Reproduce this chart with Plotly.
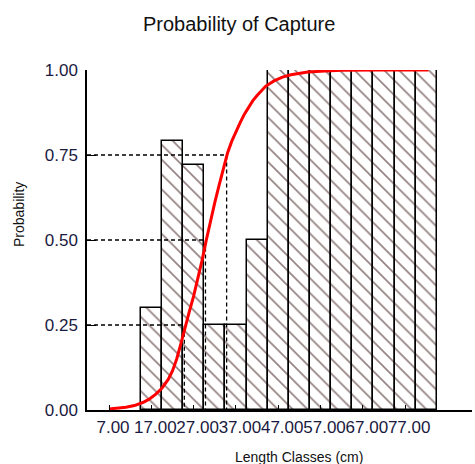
import plotly.graph_objects as go

# Length-class midpoints (cm) and observed proportion retained per class
class_mid = [17, 22, 27, 32, 37, 42, 47, 52, 57, 62, 67, 72, 77, 82]
prop_retained = [0.30, 0.79, 0.72, 0.25, 0.25, 0.50, 1.00, 1.00, 1.00, 1.00, 1.00, 1.00, 1.00, 1.00]
class_width = 5

# Fitted selection curve (length, probability of capture)
curve_len = [7, 9, 11, 13, 15, 16.5, 18, 19.5, 21, 22, 23, 24, 25, 26, 27, 28, 29, 30, 31, 32,
             33, 34, 35, 36, 37, 38, 39, 40, 41, 42, 43, 44, 46, 48, 50, 54, 58, 62, 70, 82.5]
curve_prob = [0.003, 0.005, 0.008, 0.013, 0.022, 0.032, 0.046, 0.064, 0.09, 0.115, 0.15, 0.195,
              0.245, 0.29, 0.335, 0.385, 0.44, 0.50, 0.56, 0.61, 0.66, 0.71, 0.755, 0.79, 0.82,
              0.845, 0.87, 0.89, 0.91, 0.925, 0.94, 0.952, 0.968, 0.979, 0.986, 0.994, 0.997,
              0.999, 1.0, 1.0]

# Selection lengths L25, L50, L75
sel_prob = [0.25, 0.50, 0.75]
sel_len = [24.8, 29.8, 34.8]

x_tick_vals = [7, 17, 27, 37, 47, 57, 67, 77]
y_tick_vals = [0, 0.25, 0.5, 0.75, 1.0]

X_MIN, X_MAX = 1.8, 92.8
FONT = "Liberation Sans, Arial, sans-serif"

fig = go.Figure()

fig.add_trace(go.Bar(
    x=class_mid, y=prop_retained, width=[class_width] * len(class_mid),
    marker=dict(
        color="white",
        line=dict(color="black", width=1.5),
        pattern=dict(shape="\\", fgcolor="#2a0404", bgcolor="white",
                     size=10.5, solidity=0.16),
    ),
    showlegend=False,
))

for p, L in zip(sel_prob, sel_len):
    fig.add_trace(go.Scatter(
        x=[X_MIN, L, L], y=[p, p, 0], mode="lines",
        line=dict(color="black", width=1.3, dash="4px,3px"),
        showlegend=False, hoverinfo="skip",
    ))

fig.add_trace(go.Scatter(
    x=curve_len, y=curve_prob, mode="lines",
    line=dict(color="#ff0000", width=3),
    showlegend=False,
))

fig.update_layout(
    width=475, height=464,
    margin=dict(l=87, r=3, t=70, b=54),
    paper_bgcolor="white", plot_bgcolor="white",
    font=dict(family=FONT, color="#111111"),
    bargap=0,
    xaxis=dict(
        range=[X_MIN, X_MAX], tickvals=x_tick_vals, tickformat=".2f", tickangle=0,
        ticks="inside", ticklen=5, tickcolor="black", tickwidth=1.2,
        showline=True, linecolor="black", linewidth=1.5,
        showgrid=False, zeroline=False,
        tickfont=dict(size=17, family=FONT, color="#1a1a40"),
        ticklabelshift=4, ticklabelstandoff=1,
    ),
    yaxis=dict(
        range=[0, 1], tickvals=y_tick_vals, tickformat=".2f",
        ticks="inside", ticklen=9, tickcolor="black", tickwidth=1.2,
        showline=True, linecolor="black", linewidth=1.5,
        showgrid=False, zeroline=False,
        tickfont=dict(size=17, family=FONT, color="#1a1a40"),
        ticklabelstandoff=4,
    ),
    annotations=[
        dict(text="Probability of Capture", xref="paper", yref="paper",
             x=(239 - 87) / 385, y=1 + (70 - 24) / 340, xanchor="center", yanchor="middle",
             showarrow=False, font=dict(size=20, family=FONT, color="#111111")),
        dict(text="Length Classes (cm)", xref="paper", yref="paper",
             x=(299 - 87) / 385, y=-(457 - 410) / 340, xanchor="center", yanchor="middle",
             showarrow=False, font=dict(size=14, family=FONT, color="#111111")),
        dict(text="Probability", xref="paper", yref="paper", textangle=-90,
             x=-(87 - 19) / 385, y=(410 - 215) / 340, xanchor="center", yanchor="middle",
             showarrow=False, font=dict(size=14, family=FONT, color="#111111")),
    ],
)

fig.write_html("out.html")
